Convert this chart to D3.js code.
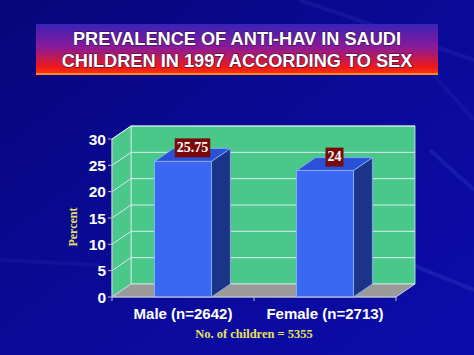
<!DOCTYPE html>
<html lang="en">
  <head>
    <meta charset="utf-8">
    <title>Prevalence of anti-HAV</title>
    <script type="text/javascript" src="https://d3js.org/d3.v7.min.js"></script>
    <style>
      body { margin: 0; background: #0a0a8c; }
      svg { display: block; }
    </style>
  </head>

  <body>
    <script>
      // data
      var categories = ['Male (n=2642)', 'Female (n=2713)']
      var values = [25.75, 24]
      var valueLabels = ['25.75', '24']
      var yTicks = [0, 5, 10, 15, 20, 25, 30]
      var titleLines = ['PREVALENCE OF ANTI-HAV IN SAUDI', 'CHILDREN IN 1997 ACCORDING TO SEX']

      var width = 474, height = 355
      var dx = 19, dy = 13 // 3d depth offset

      var svg = d3.select('body').append('svg').attr('width', width).attr('height', height)
      var defs = svg.append('defs')

      // background
      var bg = defs.append('linearGradient').attr('id', 'bg')
        .attr('x1', 0).attr('y1', 0).attr('x2', 1).attr('y2', 1)
      bg.append('stop').attr('offset', 0).attr('stop-color', '#07077a')
      bg.append('stop').attr('offset', 0.5).attr('stop-color', '#0a0a98')
      bg.append('stop').attr('offset', 1).attr('stop-color', '#0c0cab')
      svg.append('rect').attr('width', width).attr('height', height).attr('fill', 'url(#bg)')

      // a few faint streaks
      var streaks = [[300, 0, 474, 60, 0.08], [420, 60, 474, 120, 0.06], [400, 260, 474, 290, 0.12],
                     [430, 150, 474, 190, 0.1], [0, 260, 100, 265, 0.06]]
      svg.selectAll('line.streak').data(streaks).enter().append('line')
        .attr('x1', function(d) { return d[0] }).attr('y1', function(d) { return d[1] })
        .attr('x2', function(d) { return d[2] }).attr('y2', function(d) { return d[3] })
        .attr('stroke', '#8fa0ff').attr('stroke-width', 4).attr('opacity', function(d) { return d[4] })

      // title box
      var tg = defs.append('linearGradient').attr('id', 'tg')
        .attr('x1', 0).attr('y1', 0).attr('x2', 0).attr('y2', 1)
      tg.append('stop').attr('offset', 0).attr('stop-color', '#3b22b8')
      tg.append('stop').attr('offset', 0.45).attr('stop-color', '#8a1a9a')
      tg.append('stop').attr('offset', 0.85).attr('stop-color', '#f01818')
      tg.append('stop').attr('offset', 1).attr('stop-color', '#ff3a10')
      svg.append('rect').attr('x', 36).attr('y', 24).attr('width', 402).attr('height', 51).attr('fill', 'url(#tg)')
      svg.append('rect').attr('x', 36).attr('y', 73).attr('width', 402).attr('height', 2).attr('fill', '#ff8a20')

      svg.selectAll('text.title').data(titleLines).enter().append('text')
        .attr('class', 'title')
        .attr('x', 237).attr('y', function(d, i) { return 45 + i * 22 })
        .attr('text-anchor', 'middle')
        .attr('font-family', 'Liberation Sans, Arial, sans-serif')
        .attr('font-weight', 'bold').attr('font-size', 18.2)
        .attr('fill', 'white')
        .style('paint-order', 'stroke').attr('stroke', '#301040').attr('stroke-width', 1)
        .text(function(d) { return d })

      // scales
      var y = d3.scaleLinear().domain([0, 30]).range([297, 139])
      var x = d3.scaleBand().domain(categories).range([112, 396]).paddingInner(0.6).paddingOuter(0.3)
      var x0 = 112, x1 = 396, y0 = y(0), yTop = y(30)

      function pts(a) { return a.map(function(p) { return p.join(',') }).join(' ') }

      var wallColor = '#4ac88a', lineColor = '#d8ecf0'

      // back wall
      svg.append('polygon')
        .attr('points', pts([[x0 + dx, yTop - dy], [x1 + dx, yTop - dy], [x1 + dx, y0 - dy], [x0 + dx, y0 - dy]]))
        .attr('fill', wallColor).attr('stroke', lineColor).attr('stroke-width', 0.8)
      // left wall
      svg.append('polygon')
        .attr('points', pts([[x0, yTop], [x0 + dx, yTop - dy], [x0 + dx, y0 - dy], [x0, y0]]))
        .attr('fill', wallColor).attr('stroke', lineColor).attr('stroke-width', 0.8)
      // floor
      svg.append('polygon')
        .attr('points', pts([[x0, y0], [x0 + dx, y0 - dy], [x1 + dx, y0 - dy], [x1, y0]]))
        .attr('fill', '#9a9a9a').attr('stroke', lineColor).attr('stroke-width', 0.8)

      // gridlines
      var grid = yTicks.filter(function(v) { return v > 0 })
      svg.selectAll('line.gback').data(grid).enter().append('line')
        .attr('x1', x0 + dx).attr('x2', x1 + dx)
        .attr('y1', function(d) { return y(d) - dy }).attr('y2', function(d) { return y(d) - dy })
        .attr('stroke', lineColor).attr('stroke-width', 1)
      svg.selectAll('line.gside').data(grid).enter().append('line')
        .attr('x1', x0).attr('x2', x0 + dx)
        .attr('y1', function(d) { return y(d) }).attr('y2', function(d) { return y(d) - dy })
        .attr('stroke', lineColor).attr('stroke-width', 1)

      // bars
      var bars = svg.selectAll('g.bar').data(values).enter().append('g').attr('class', 'bar')
      var bw = x.bandwidth()
      bars.append('polygon') // side
        .attr('points', function(d, i) {
          var l = x(categories[i]) + bw, t = y(d)
          return pts([[l, t], [l + dx, t - dy], [l + dx, y0 - dy], [l, y0]])
        })
        .attr('fill', '#1c3488').attr('stroke', '#8fb4ff').attr('stroke-width', 0.8)
      bars.append('polygon') // top
        .attr('points', function(d, i) {
          var l = x(categories[i]), t = y(d)
          return pts([[l, t], [l + dx, t - dy], [l + bw + dx, t - dy], [l + bw, t]])
        })
        .attr('fill', '#2a52d6').attr('stroke', '#8fb4ff').attr('stroke-width', 0.8)
      bars.append('rect') // front
        .attr('x', function(d, i) { return x(categories[i]) })
        .attr('y', function(d) { return y(d) })
        .attr('width', bw)
        .attr('height', function(d) { return y0 - y(d) })
        .attr('fill', '#3b68f2').attr('stroke', '#8fb4ff').attr('stroke-width', 0.8)

      // value labels
      var lab = svg.selectAll('g.lab').data(values).enter().append('g').attr('class', 'lab')
      var labText = lab.append('text')
        .attr('x', function(d, i) { return x(categories[i]) + bw / 2 + dx / 2 })
        .attr('y', function(d) { return y(d) - 9.5 })
        .attr('text-anchor', 'middle')
        .attr('font-family', 'Liberation Serif, Times New Roman, serif')
        .attr('font-weight', 'bold').attr('font-size', 14)
        .attr('fill', 'white')
        .text(function(d, i) { return valueLabels[i] })
      labText.each(function() {
        var b = this.getBBox()
        d3.select(this.parentNode).insert('rect', 'text')
          .attr('x', b.x - 2).attr('y', b.y - 1.5).attr('width', b.width + 4).attr('height', b.height + 4)
          .attr('fill', '#7a0a0a')
      })

      // axes
      var axisColor = '#b8b8c8'
      svg.append('line').attr('x1', x0).attr('x2', x0).attr('y1', yTop).attr('y2', y0)
        .attr('stroke', axisColor).attr('stroke-width', 1)
      svg.append('line').attr('x1', x0).attr('x2', x1).attr('y1', y0).attr('y2', y0)
        .attr('stroke', axisColor).attr('stroke-width', 1)
      svg.selectAll('line.ytick').data(yTicks).enter().append('line')
        .attr('x1', x0 - 4).attr('x2', x0)
        .attr('y1', function(d) { return y(d) }).attr('y2', function(d) { return y(d) })
        .attr('stroke', axisColor)
      svg.selectAll('text.ytick').data(yTicks).enter().append('text')
        .attr('x', x0 - 6).attr('y', function(d) { return y(d) + 5.5 })
        .attr('text-anchor', 'end')
        .attr('font-family', 'Liberation Sans, Arial, sans-serif')
        .attr('font-weight', 'bold').attr('font-size', 15.5).attr('fill', 'white')
        .text(function(d) { return d })

      // category boundaries
      var xTickPos = [x0, (x0 + x1) / 2, x1]
      svg.selectAll('line.xtick').data(xTickPos).enter().append('line')
        .attr('x1', function(d) { return d }).attr('x2', function(d) { return d })
        .attr('y1', y0).attr('y2', y0 + 4).attr('stroke', axisColor)

      svg.selectAll('text.xlab').data(categories).enter().append('text')
        .attr('x', function(d) { return x(d) + bw / 2 })
        .attr('y', 319)
        .attr('text-anchor', 'middle')
        .attr('font-family', 'Liberation Sans, Arial, sans-serif')
        .attr('font-weight', 'bold').attr('font-size', 15).attr('fill', 'white')
        .text(function(d) { return d })

      // axis title and note
      svg.append('text')
        .attr('transform', 'translate(77,227) rotate(-90)')
        .attr('text-anchor', 'middle')
        .attr('font-family', 'Liberation Serif, Times New Roman, serif')
        .attr('font-weight', 'bold').attr('font-size', 12).attr('fill', '#e8e060')
        .text('Percent')

      svg.append('text')
        .attr('x', 254).attr('y', 338)
        .attr('text-anchor', 'middle')
        .attr('font-family', 'Liberation Serif, Times New Roman, serif')
        .attr('font-weight', 'bold').attr('font-size', 12.5).attr('fill', '#e8e060')
        .text('No. of children = 5355')
    </script>
  </body>
</html>
